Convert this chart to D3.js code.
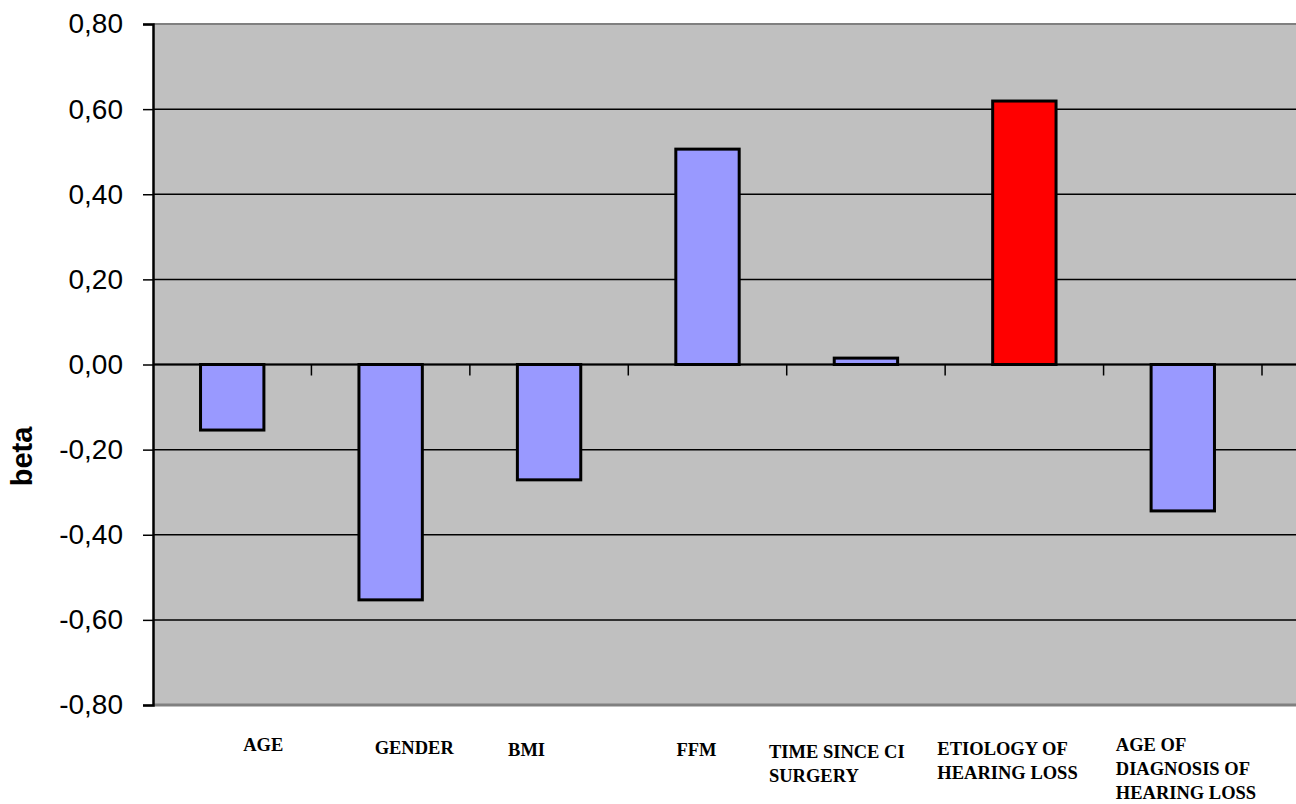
<!DOCTYPE html>
<html>
<head>
<meta charset="utf-8">
<script src="https://cdn.jsdelivr.net/npm/d3@7"></script>
<style>
  body { margin: 0; background: #fff; }
  svg { display: block; }
</style>
</head>
<body>
<svg width="1296" height="804"></svg>
<script>
// categories (multi-line labels split on |)
var categories = ["AGE", "GENDER", "BMI", "FFM", "TIME SINCE CI|SURGERY", "ETIOLOGY OF|HEARING LOSS", "AGE OF|DIAGNOSIS OF|HEARING LOSS"];
var betaValues = [-0.154, -0.553, -0.271, 0.506, 0.015, 0.619, -0.344];
var highlighted = [false, false, false, false, false, true, false];
var yTicks = [0.8, 0.6, 0.4, 0.2, 0, -0.2, -0.4, -0.6, -0.8];

var svg = d3.select("svg"),
    width = +svg.attr("width"),
    height = +svg.attr("height");

var plotLeft = 153, plotRight = 1262, plotTop = 24, plotBottom = 705;

var x = d3.scaleBand()
    .domain(categories)
    .range([plotLeft, plotRight])
    .paddingInner(0.6)
    .paddingOuter(0.3);
var step = x.step();

var y = d3.scaleLinear()
    .domain([-0.8, 0.8])
    .range([plotBottom, plotTop]);

var fmt = function (d) { return d3.format(".2f")(d).replace(".", ",").replace("−", "-"); };

// plot background
svg.append("rect")
    .attr("x", plotLeft).attr("y", plotTop)
    .attr("width", width - plotLeft).attr("height", plotBottom - plotTop)
    .attr("fill", "#c0c0c0");

// gridlines
svg.append("g").selectAll("line")
    .data(yTicks.filter(function (d) { return d != 0.8 && d != -0.8; }))
    .enter().append("line")
    .attr("x1", plotLeft).attr("x2", width)
    .attr("y1", function (d) { return y(d); })
    .attr("y2", function (d) { return y(d); })
    .attr("stroke", "#000").attr("stroke-width", 1.5);

// top and bottom border
svg.append("line").attr("x1", plotLeft).attr("x2", width).attr("y1", plotTop).attr("y2", plotTop)
    .attr("stroke", "#808080").attr("stroke-width", 2);
svg.append("line").attr("x1", plotLeft).attr("x2", width).attr("y1", plotBottom).attr("y2", plotBottom)
    .attr("stroke", "#808080").attr("stroke-width", 3);

// y axis
var yAxis = svg.append("g")
    .attr("transform", "translate(" + plotLeft + ",0)")
    .call(d3.axisLeft(y).tickValues(yTicks).tickFormat(fmt).tickSize(10).tickPadding(20));
yAxis.select(".domain").attr("stroke", "#000").attr("stroke-width", 2.5);
yAxis.selectAll(".tick line").attr("stroke", "#000").attr("stroke-width", 1.5);
yAxis.selectAll("text")
    .attr("font-family", "'Liberation Sans', Arial, sans-serif")
    .attr("font-size", 28)
    .attr("fill", "#000");

// bars
svg.append("g").selectAll("rect")
    .data(categories)
    .enter().append("rect")
    .attr("x", function (d) { return x(d); })
    .attr("width", x.bandwidth())
    .attr("y", function (d, i) { return y(Math.max(0, betaValues[i])); })
    .attr("height", function (d, i) { return Math.abs(y(betaValues[i]) - y(0)); })
    .attr("fill", function (d, i) { return highlighted[i] ? "#ff0000" : "#9999ff"; })
    .attr("stroke", "#000")
    .attr("stroke-width", 3);

// zero line with category ticks
svg.append("line").attr("x1", plotLeft).attr("x2", width).attr("y1", y(0)).attr("y2", y(0))
    .attr("stroke", "#000").attr("stroke-width", 2);
svg.append("g").selectAll("line")
    .data(categories)
    .enter().append("line")
    .attr("x1", function (d) { return x(d) - step * 0.3 + step; })
    .attr("x2", function (d) { return x(d) - step * 0.3 + step; })
    .attr("y1", y(0)).attr("y2", y(0) + 11)
    .attr("stroke", "#000").attr("stroke-width", 1.5);

// category labels (excel places them a bit off-center)
var labelShift = [11, -16, -41, -31, -97, -87, -67];
var labelTop = [745, 748, 750, 750, 752, 749, 745];
var lab = svg.append("g").selectAll("text")
    .data(categories)
    .enter().append("text")
    .attr("font-family", "'Liberation Serif', 'Times New Roman', serif")
    .attr("font-weight", "bold")
    .attr("font-size", 18.5)
    .attr("fill", "#000")
    .attr("transform", function (d, i) {
        return "translate(" + (x(d) + x.bandwidth() / 2 + labelShift[i]) + "," + labelTop[i] + ")";
    });
lab.selectAll("tspan")
    .data(function (d) { return d.split("|"); })
    .enter().append("tspan")
    .attr("x", 0)
    .attr("dy", function (d, i) { return i == 0 ? "0.35em" : 24; })
    .text(function (d) { return d; });

// axis title
svg.append("text")
    .attr("transform", "translate(32," + ((plotTop + plotBottom) / 2 + 92) + ") rotate(-90)")
    .attr("text-anchor", "middle")
    .attr("font-family", "'Liberation Sans', Arial, sans-serif")
    .attr("font-weight", "bold")
    .attr("font-size", 29)
    .text("beta");
</script>
</body>
</html>
